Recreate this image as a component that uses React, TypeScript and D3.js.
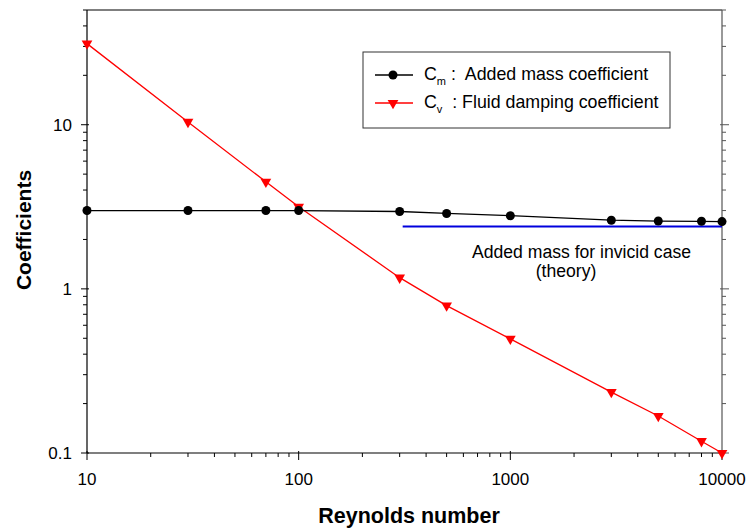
import React from "react";
import * as d3 from "d3";

// Reynolds numbers sampled
const reynolds = [10, 30, 70, 100, 300, 500, 1000, 3000, 5000, 8000, 10000];
// Added mass coefficient Cm
const cmValues = [3.0, 3.0, 3.0, 3.0, 2.96, 2.88, 2.79, 2.62, 2.59, 2.58, 2.57];
// Fluid damping coefficient Cv
const cvValues = [31.2, 10.4, 4.49, 3.16, 1.17, 0.79, 0.496, 0.235, 0.168, 0.118, 0.1];
// Inviscid theory reference line
const theoryRange = [310, 10000];
const theoryValue = 2.4;

const xTickValues = [10, 100, 1000, 10000];
const yTickValues = [0.1, 1, 10];
const yLabels = ["0.1", "1", "10"];

const W = 749;
const H = 531;
const L = 87, R = 722, T = 10, B = 453;
const FONT = "'Liberation Sans', Arial, sans-serif";
const pre = { whiteSpace: "pre" as const };

export default function App() {
  const x = d3.scaleLog().domain([10, 10000]).range([L, R]);
  const y = d3.scaleLog().domain([0.1, 50]).range([B, T]);

  const xMinor: number[] = [];
  for (let d = 10; d < 10000; d *= 10) for (let k = 2; k <= 9; k++) xMinor.push(d * k);
  const yMinor: number[] = [];
  for (let d = 0.1; d < 50; d *= 10) for (let k = 2; k <= 9; k++) { const v = +(d * k).toPrecision(3); if (v <= 50) yMinor.push(v); }

  const line = d3.line<[number, number]>().x(d => x(d[0])).y(d => y(d[1]));
  const cmPts: [number, number][] = reynolds.map((r, i) => [r, cmValues[i]]);
  const cvPts: [number, number][] = reynolds.map((r, i) => [r, cvValues[i]]);
  const tri = d3.symbol().type(d3.symbolTriangle).size(50)();

  return (
    <svg width={W} height={H} style={{ position: "absolute", left: 0, top: 0 }} fontFamily={FONT}>
      <rect width={W} height={H} fill="#fff" />
      {/* frame */}
      <line x1={L} x2={R} y1={T} y2={T} stroke="#000" strokeWidth={1.2} />
      <line x1={R} x2={R} y1={T} y2={B} stroke="#555" strokeWidth={1.2} />
      <line x1={L} x2={L} y1={T} y2={B} stroke="#000" strokeWidth={1.2} />
      <line x1={L} x2={R} y1={B} y2={B} stroke="#000" strokeWidth={1.2} />

      {/* x ticks */}
      {xTickValues.map(v => (
        <g key={"xt" + v}>
          <line x1={x(v)} x2={x(v)} y1={B - 2} y2={B + 7} stroke="#000" />
          <text x={x(v)} y={485} textAnchor="middle" fontSize={17}>{v}</text>
        </g>
      ))}
      {xMinor.map(v => (
        <line key={"xm" + v} x1={x(v)} x2={x(v)} y1={B} y2={B + 4} stroke="#000" />
      ))}

      {/* y ticks, left and right */}
      {yTickValues.map((v, i) => (
        <g key={"yt" + v}>
          <line x1={L - 6} x2={L + 2} y1={y(v)} y2={y(v)} stroke="#000" />
          <line x1={R - 2} x2={R + 7} y1={y(v)} y2={y(v)} stroke="#555" />
          <text x={72} y={y(v) + 6} textAnchor="end" fontSize={17}>{yLabels[i]}</text>
        </g>
      ))}
      {yMinor.map(v => (
        <g key={"ym" + v}>
          <line x1={L - 4} x2={L} y1={y(v)} y2={y(v)} stroke="#000" />
          <line x1={R} x2={R + 4} y1={y(v)} y2={y(v)} stroke="#555" />
        </g>
      ))}

      {/* axis titles */}
      <text x={409} y={523} textAnchor="middle" fontSize={21.5} fontWeight="bold">Reynolds number</text>
      <text transform="translate(31,230) rotate(-90)" textAnchor="middle" fontSize={21} fontWeight="bold">Coefficients</text>

      {/* theory line */}
      <line x1={x(theoryRange[0])} x2={x(theoryRange[1])} y1={y(theoryValue)} y2={y(theoryValue)} stroke="#0000dd" strokeWidth={2} />
      <text x={581.5} y={258} textAnchor="middle" fontSize={17.6}>Added mass for invicid case</text>
      <text x={566} y={277} textAnchor="middle" fontSize={17.6}>(theory)</text>

      {/* Cv series */}
      <path d={line(cvPts) || ""} fill="none" stroke="#ff0000" strokeWidth={1.3} />
      {cvPts.map((p, i) => (
        <path key={"cv" + i} d={tri || ""} transform={`translate(${x(p[0])},${y(p[1])}) rotate(180)`} fill="#ff0000" />
      ))}

      {/* Cm series */}
      <path d={line(cmPts) || ""} fill="none" stroke="#000" strokeWidth={1.3} />
      {cmPts.map((p, i) => (
        <circle key={"cm" + i} cx={x(p[0])} cy={y(p[1])} r={4.5} fill="#000" />
      ))}

      {/* legend */}
      <rect x={363} y={52} width={307} height={76} fill="#fff" stroke="#333" strokeWidth={1} />
      <line x1={375} x2={413} y1={75} y2={75} stroke="#000" strokeWidth={1.3} />
      <circle cx={393} cy={75} r={4.5} fill="#000" />
      <text x={424} y={80} fontSize={17.8} style={pre}>C<tspan fontSize={11} dy={5}>m</tspan><tspan dy={-5}>{" :  Added mass coefficient"}</tspan></text>
      <line x1={375} x2={413} y1={103} y2={103} stroke="#ff0000" strokeWidth={1.3} />
      <path d={tri || ""} transform="translate(393,103) rotate(180)" fill="#ff0000" />
      <text x={424} y={108} fontSize={17.8} style={pre}>C<tspan fontSize={11} dy={5}>v</tspan><tspan dy={-5}>{"  : Fluid damping coefficient"}</tspan></text>
    </svg>
  );
}
